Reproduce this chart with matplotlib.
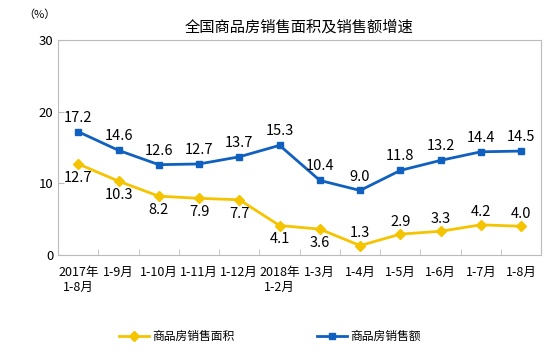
import matplotlib.pyplot as plt
import numpy as np

plt.rcParams['font.family'] = ['Noto Sans CJK SC', 'DejaVu Sans']

# ---------- Data ----------
categories = ["2017年\n1-8月", "1-9月", "1-10月", "1-11月", "1-12月", "2018年\n1-2月",
              "1-3月", "1-4月", "1-5月", "1-6月", "1-7月", "1-8月"]
area = [12.7, 10.3, 8.2, 7.9, 7.7, 4.1, 3.6, 1.3, 2.9, 3.3, 4.2, 4.0]
sales = [17.2, 14.6, 12.6, 12.7, 13.7, 15.3, 10.4, 9.0, 11.8, 13.2, 14.4, 14.5]
area_label_above = [False, False, False, False, False, False, False, True, True, True, True, True]

yellow = "#F5C400"
blue = "#1060C0"

fig = plt.figure(figsize=(5.54, 3.58), dpi=100)
ax = fig.add_axes([0.105, 0.288, 0.872, 0.6])

x = np.arange(len(categories))
ax.plot(x, area, color=yellow, lw=2, marker="D", ms=5, label="商品房销售面积")
ax.plot(x, sales, color=blue, lw=2, marker="s", ms=5, label="商品房销售额")

for xi, v in zip(x, sales):
    ax.annotate(f"{v:.1f}", (xi, v), xytext=(0, 5), textcoords="offset points",
                ha="center", va="bottom", fontsize=10.5)
for xi, v, up in zip(x, area, area_label_above):
    if up:
        ax.annotate(f"{v:.1f}", (xi, v), xytext=(0, 4), textcoords="offset points",
                    ha="center", va="bottom", fontsize=10.5)
    else:
        ax.annotate(f"{v:.1f}", (xi, v), xytext=(0, -5), textcoords="offset points",
                    ha="center", va="top", fontsize=10.5)

ax.set_xlim(-0.5, len(categories) - 0.5)
ax.set_ylim(0, 30)
ax.set_yticks([0, 10, 20, 30])
ax.set_xticks(x)
ax.set_xticklabels(categories, fontsize=9)
ax.set_xticks(np.arange(len(categories) + 1) - 0.5, minor=True)
ax.tick_params(axis="x", which="major", length=0, pad=8)
ax.tick_params(axis="x", which="minor", direction="in", length=4, color="#BBBBBB")
ax.tick_params(axis="y", direction="in", length=4, color="#BBBBBB", labelsize=9.5)
for s in ax.spines.values():
    s.set_color("#BBBBBB")

fig.text(0.072, 0.958, "（%）", fontsize=8, ha="center", va="center")
fig.text(0.54, 0.925, "全国商品房销售面积及销售额增速", fontsize=11, ha="center", va="center")

fig.legend(loc="center", bbox_to_anchor=(0.487, 0.06), ncol=2, frameon=False,
           fontsize=8.5, columnspacing=7, handlelength=2.5, handletextpad=0.3)

fig.savefig("out.png", dpi=100)
